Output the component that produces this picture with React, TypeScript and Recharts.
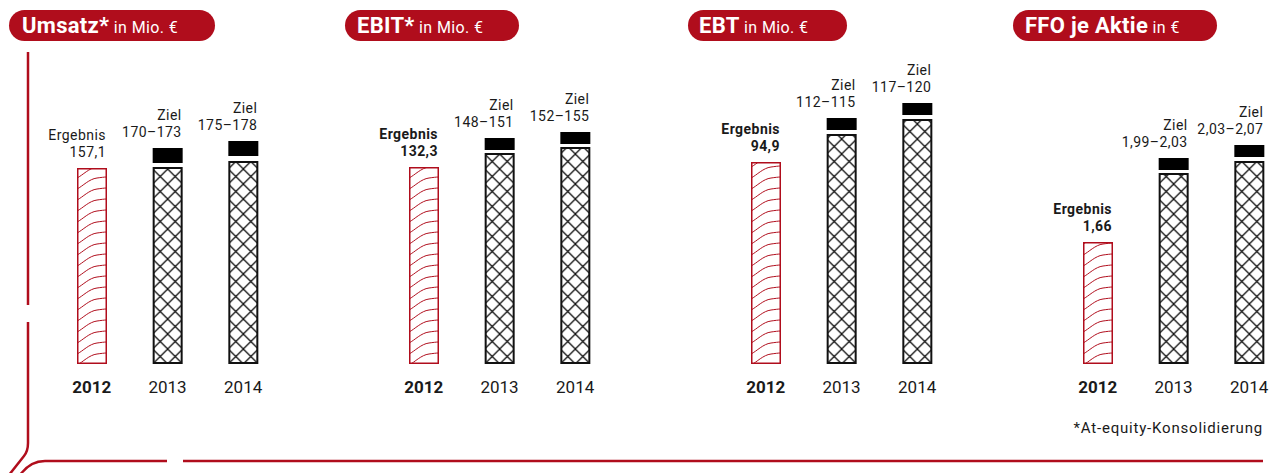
import React from 'react';
import { BarChart, Bar, XAxis, YAxis, LabelList } from 'recharts';

const RED = '#b00d1c';
const FONT = 'Roboto, "DejaVu Sans", sans-serif';

const years = ['2012', '2013', '2014'];

// Balkenhöhen (die Grafik ist nicht maßstäblich)
const umsatzBars = [196, 197, 203];
const umsatzGap = [0, 4, 5];
const umsatzTarget = [0, 15, 15];
const umsatzHead = ['Ergebnis', 'Ziel', 'Ziel'];
const umsatzText = ['157,1', '170–173', '175–178'];

const ebitBars = [197, 211, 217];
const ebitGap = [0, 3, 3];
const ebitTarget = [0, 12, 12];
const ebitHead = ['Ergebnis', 'Ziel', 'Ziel'];
const ebitText = ['132,3', '148–151', '152–155'];

const ebtBars = [202, 230, 245];
const ebtGap = [0, 4, 4];
const ebtTarget = [0, 12, 12];
const ebtHead = ['Ergebnis', 'Ziel', 'Ziel'];
const ebtText = ['94,9', '112–115', '117–120'];

const ffoBars = [122, 191, 203];
const ffoGap = [0, 3, 4];
const ffoTarget = [0, 12, 12];
const ffoHead = ['Ergebnis', 'Ziel', 'Ziel'];
const ffoText = ['1,66', '1,99–2,03', '2,03–2,07'];

const Y_MAX = 270;
const PLOT_H = 270; // plot height in px, so one unit = one pixel

const HatchBar = (props: any) => {
  const { x, y, width, height, payload } = props;
  if (!height || height <= 0) return null;
  const bottom = y + height;
  if (payload && payload.year === '2012') {
    return (
      <g transform={`translate(${x},${bottom})`}>
        <rect x={0.75} y={-height + 0.75} width={width - 1.5} height={height - 1.5} fill="url(#wave)" stroke={RED} strokeWidth={1.5} />
      </g>
    );
  }
  return (
    <g transform={`translate(${x},${bottom})`}>
      <rect x={1} y={-height + 1} width={width - 2} height={height - 2} fill="url(#cross)" stroke="#111" strokeWidth={2} />
    </g>
  );
};

const YearTick = (props: any) => {
  const { x, y, payload } = props;
  return (
    <text x={x} y={y + 28.5} textAnchor="middle" fontFamily={FONT} fontSize={17}
      fontWeight={payload.value === '2012' ? 700 : 400} fill="#1a1a1a">
      {payload.value}
    </text>
  );
};

const makeLabel = (head: string[], text: string[], gaps: number[], targets: number[], boldFirst: boolean) => (props: any) => {
  const vb = props.viewBox || {};
  const x = vb.x ?? props.x;
  const barTop = vb.y ?? props.y;
  const w = vb.width ?? props.width;
  const i = props.index;
  const y = barTop - ((gaps[i] + targets[i]) * PLOT_H) / Y_MAX;
  const right = x + w - 1;
  const weight = boldFirst && i === 0 ? 700 : 400;
  return (
    <g fontFamily={FONT} fontSize={14} fill="#1a1a1a" letterSpacing={0.45} fontWeight={weight}>
      <text x={right} y={y - 28} textAnchor="end">{head[i]}</text>
      <text x={right} y={y - 11} textAnchor="end">{text[i]}</text>
    </g>
  );
};

type PanelProps = {
  left: number;
  bars: number[];
  gaps: number[];
  targets: number[];
  head: string[];
  text: string[];
  boldFirst: boolean;
};

const Panel = ({ left, bars, gaps, targets, head, text, boldFirst }: PanelProps) => {
  const data = years.map((year, i) => ({ year, bar: bars[i], gap: gaps[i], target: targets[i] }));
  return (
    <div style={{ position: 'absolute', left, top: 0 }}>
      <BarChart width={307} height={473} data={data} barSize={30}
        margin={{ top: 94, right: 20, bottom: 79, left: 60 }}>
        <XAxis dataKey="year" axisLine={false} tickLine={false} tickSize={0} tickMargin={0}
          height={30} interval={0} tick={(p: any) => <YearTick {...p} />} />
        <YAxis hide domain={[0, Y_MAX]} allowDataOverflow />
        <Bar dataKey="bar" stackId="s" shape={(p: any) => <HatchBar {...p} />} isAnimationActive={false}>
          <LabelList content={makeLabel(head, text, gaps, targets, boldFirst)} />
        </Bar>
        <Bar dataKey="gap" stackId="s" fill="none" isAnimationActive={false} />
        <Bar dataKey="target" stackId="s" fill="#000" isAnimationActive={false} />
      </BarChart>
    </div>
  );
};

const titles = [
  { x: 9, w: 206, tx: 22, main: 'Umsatz*', unit: ' in Mio. €' },
  { x: 345, w: 174, tx: 357, main: 'EBIT*', unit: ' in Mio. €' },
  { x: 688, w: 159, tx: 699, main: 'EBT', unit: ' in Mio. €' },
  { x: 1013, w: 204, tx: 1025, main: 'FFO je Aktie', unit: ' in €' },
];

export default function App() {
  return (
    <div style={{ position: 'absolute', left: 0, top: 0, width: 1273, height: 473, overflow: 'hidden', background: '#fff' }}>
      <svg width={1273} height={473} style={{ position: 'absolute', left: 0, top: 0 }}>
        <defs>
          <pattern id="cross" patternUnits="userSpaceOnUse" width={15} height={15}>
            <path d="M0,0 L15,15 M15,0 L0,15" stroke="#111" strokeWidth={1.3} fill="none" />
          </pattern>
          <pattern id="wave" patternUnits="userSpaceOnUse" width={30} height={11}>
            {[-11, 0, 11].map((o) => (
              <path key={o} d={`M0,${o + 12} C6,${o + 9} 12,${o + 2} 20,${o + 1} C24,${o + 0.5} 27,${o} 30,${o}`}
                stroke={RED} strokeWidth={1} fill="none" />
            ))}
          </pattern>
        </defs>
        {titles.map((t) => (
          <g key={t.main}>
            <rect x={t.x} y={10} width={t.w} height={31} rx={15.5} fill={RED} />
            <text x={t.tx} y={33} fill="#fff" fontFamily={FONT}>
              <tspan fontSize={22} fontWeight={700} letterSpacing={0.3}>{t.main}</tspan>
              <tspan fontSize={16} letterSpacing={0.4}>{t.unit}</tspan>
            </text>
          </g>
        ))}
        <g stroke={RED} strokeWidth={2.5} fill="none">
          <path d="M28,52 V305" />
          <path d="M28,322 V443 Q28,451 24,456 L9,475" />
          <path d="M20,475 Q30,461 45,461 H167" />
          <path d="M183,461 H1263" />
        </g>
        <text x={1263} y={433} textAnchor="end" fontFamily={FONT} fontSize={15} letterSpacing={0.8} fill="#1a1a1a">
          *At-equity-Konsolidierung
        </text>
      </svg>
      <Panel left={-5.65} bars={umsatzBars} gaps={umsatzGap} targets={umsatzTarget} head={umsatzHead} text={umsatzText} boldFirst={false} />
      <Panel left={326.15} bars={ebitBars} gaps={ebitGap} targets={ebitTarget} head={ebitHead} text={ebitText} boldFirst />
      <Panel left={667.65} bars={ebtBars} gaps={ebtGap} targets={ebtTarget} head={ebtHead} text={ebtText} boldFirst />
      <Panel left={1000.15} bars={ffoBars} gaps={ffoGap} targets={ffoTarget} head={ffoHead} text={ffoText} boldFirst />
    </div>
  );
}
